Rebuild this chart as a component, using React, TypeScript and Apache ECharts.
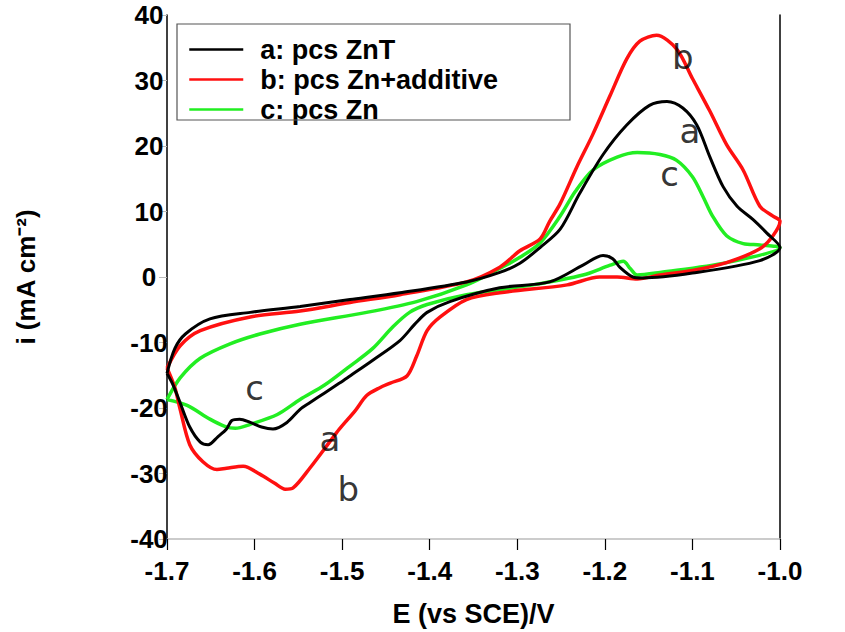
import React, { useEffect, useRef } from "react";
import * as echarts from "echarts";

// Potential range (V) and current density range (mA cm^-2)
const xTicks = [-1.7, -1.6, -1.5, -1.4, -1.3, -1.2, -1.1, -1.0];
const yTicks = [-40, -30, -20, -10, 0, 10, 20, 30, 40];

const seriesNames = ["a: pcs ZnT", "b: pcs Zn+additive", "c: pcs Zn"];
const seriesColors = ["#000000", "#ff1010", "#22ee22"];

// Voltammogram a (closed loop: cathodic sweep then anodic return)
const curveA: [number, number][] = [
  [-1.7, -14.7], [-1.693, -16.5], [-1.685, -19.2], [-1.674, -22.9], [-1.662, -25.2],
  [-1.653, -25.6], [-1.642, -24.4], [-1.632, -23.2], [-1.626, -21.9], [-1.617, -21.7],
  [-1.605, -22.2], [-1.592, -22.9], [-1.579, -23.2], [-1.563, -22.2], [-1.548, -20.2],
  [-1.537, -19.2], [-1.52, -17.7], [-1.503, -16.2], [-1.491, -15.1], [-1.465, -12.7],
  [-1.434, -9.7], [-1.417, -7.2], [-1.403, -5.4], [-1.377, -3.75], [-1.32, -1.65],
  [-1.263, -0.75], [-1.225, 1.8], [-1.202, 3.3], [-1.191, 2.8], [-1.183, 1.5],
  [-1.168, 0], [-1.157, -0.15], [-1.1, 0.6], [-1.023, 2.5], [-1.0, 4.5],
  [-1.015, 6.7], [-1.031, 8.8], [-1.049, 10.8], [-1.065, 13.8], [-1.08, 18.3],
  [-1.095, 23.2], [-1.111, 25.8], [-1.129, 26.8], [-1.149, 26.2], [-1.175, 23.2],
  [-1.202, 18.7], [-1.229, 12.7], [-1.251, 7.3], [-1.274, 4.5], [-1.297, 2.1],
  [-1.32, 0.7], [-1.358, -0.75], [-1.434, -2.4], [-1.491, -3.45], [-1.548, -4.5],
  [-1.605, -5.4], [-1.651, -6.4], [-1.679, -8.7], [-1.691, -10.9], [-1.7, -14.7],
];

// Voltammogram b
const curveB: [number, number][] = [
  [-1.7, -13.9], [-1.691, -16.9], [-1.685, -20.2], [-1.674, -25.6], [-1.659, -28.2],
  [-1.643, -29.4], [-1.632, -29.2], [-1.613, -28.9], [-1.594, -30.1], [-1.577, -31.5],
  [-1.565, -32.4], [-1.556, -32.2], [-1.537, -29.2], [-1.511, -24.6], [-1.503, -23.2],
  [-1.485, -20.4], [-1.472, -18.1], [-1.457, -16.9], [-1.445, -16.2], [-1.426, -15.1],
  [-1.415, -12.1], [-1.403, -8.2], [-1.388, -6.1], [-1.358, -3.45], [-1.32, -2.4],
  [-1.243, -1.2], [-1.206, 0], [-1.186, 0], [-1.163, -0.3], [-1.137, 0.3],
  [-1.1, 1.0], [-1.061, 2.2], [-1.023, 4.3], [-1.008, 6.3], [-1.0, 8.5],
  [-1.008, 9.3], [-1.023, 10.8], [-1.042, 16.3], [-1.061, 20.2], [-1.08, 25.3],
  [-1.1, 30.3], [-1.118, 34.8], [-1.141, 36.9], [-1.16, 36.0], [-1.175, 33.3],
  [-1.194, 27.7], [-1.214, 21.7], [-1.232, 16.8], [-1.251, 11.2], [-1.263, 8.5],
  [-1.274, 5.8], [-1.297, 4.0], [-1.32, 1.5], [-1.358, -0.75], [-1.434, -2.7],
  [-1.491, -3.9], [-1.548, -5.2], [-1.605, -6.1], [-1.662, -8.2], [-1.685, -10.5],
  [-1.7, -13.9],
];

// Voltammogram c
const curveC: [number, number][] = [
  [-1.7, -18.7], [-1.677, -19.6], [-1.651, -21.7], [-1.634, -22.8], [-1.622, -23.1],
  [-1.605, -22.5], [-1.574, -21.0], [-1.548, -18.7], [-1.52, -16.5], [-1.491, -13.6],
  [-1.465, -10.9], [-1.442, -7.6], [-1.423, -5.4], [-1.403, -4.2], [-1.358, -2.7],
  [-1.282, -1.2], [-1.225, 0.3], [-1.194, 1.8], [-1.179, 2.4], [-1.171, 1.3],
  [-1.163, 0.3], [-1.137, 0.7], [-1.061, 2.2], [-1.0, 4.5],
  [-1.023, 4.9], [-1.042, 5.1], [-1.061, 6.3], [-1.077, 9.3], [-1.088, 12.3],
  [-1.1, 15.3], [-1.118, 17.8], [-1.137, 18.7], [-1.163, 19.0], [-1.186, 18.3],
  [-1.214, 16.3], [-1.234, 13.0], [-1.251, 9.3], [-1.274, 5.2], [-1.297, 3.0],
  [-1.32, 1.3], [-1.358, -1.2], [-1.415, -3.75], [-1.472, -5.4], [-1.548, -7.2],
  [-1.594, -8.7], [-1.628, -10.2], [-1.662, -12.4], [-1.685, -15.4], [-1.7, -18.7],
];

// Curve letters placed next to the peaks
const annoLabels = ["b", "a", "c", "c", "a", "b"];
const annoX = [-1.111, -1.103, -1.126, -1.6, -1.514, -1.493];
const annoY = [33.6, 22.3, 15.7, -16.9, -24.7, -32.4];

const FONT = "Liberation Sans, Arial, sans-serif";

export default function App() {
  const ref = useRef<HTMLDivElement>(null);

  useEffect(() => {
    if (!ref.current) return;
    const chart = echarts.init(ref.current, null, { renderer: "svg" });
    const curves = [curveA, curveB, curveC];
    const widths = [3, 3.5, 3.5];

    chart.setOption({
      animation: false,
      backgroundColor: "#ffffff",
      grid: { left: 167, right: 65, top: 15, bottom: 83, containLabel: false },
      legend: {
        orient: "vertical",
        left: 188,
        top: 36,
        itemWidth: 54,
        itemHeight: 22,
        itemGap: 3,
        padding: 0,
        data: seriesNames,
        itemStyle: { opacity: 0 },
        lineStyle: { width: 2.5 },
        textStyle: {
          fontFamily: FONT,
          fontSize: 27,
          fontWeight: "bold",
          color: "#000",
          padding: [0, 0, 0, 12],
        },
      },
      graphic: [
        {
          type: "rect",
          shape: { x: 177, y: 24, width: 393, height: 96 },
          style: { fill: "none", stroke: "#555", lineWidth: 1.2 },
          z: 10,
        },
      ],
      xAxis: {
        type: "value",
        min: xTicks[0],
        max: xTicks[xTicks.length - 1],
        interval: 0.1,
        name: "E (vs SCE)/V",
        nameLocation: "middle",
        nameGap: 61,
        nameTextStyle: { fontFamily: FONT, fontSize: 27, fontWeight: "bold", color: "#000" },
        axisLine: { show: true, onZero: false, lineStyle: { color: "#bbbbbb", width: 1.5 } },
        axisTick: { show: true, inside: false, length: 11, lineStyle: { color: "#000", width: 1.2 } },
        axisLabel: {
          margin: 19,
          fontFamily: FONT,
          fontSize: 26,
          fontWeight: "bold",
          color: "#000",
          formatter: (v: number) => v.toFixed(1),
        },
        splitLine: { show: false },
      },
      yAxis: [
        {
          type: "value",
          min: yTicks[0],
          max: yTicks[yTicks.length - 1],
          interval: 10,
          name: "i (mA cm⁻²)",
          nameLocation: "middle",
          nameRotate: 90,
          nameGap: 128,
          nameTextStyle: { fontFamily: FONT, fontSize: 26, fontWeight: "bold", color: "#000" },
          axisLine: { show: true, onZero: false, lineStyle: { color: "#000", width: 1.5 } },
          axisTick: { show: true, length: 8, lineStyle: { color: "#bbbbbb" } },
          axisLabel: {
            margin: 18,
            align: "center",
            fontFamily: FONT,
            fontSize: 26,
            fontWeight: "bold",
            color: "#000",
          },
          splitLine: { show: false },
        },
        {
          type: "value",
          position: "right",
          min: yTicks[0],
          max: yTicks[yTicks.length - 1],
          interval: 10,
          axisLine: { show: true, onZero: false, lineStyle: { color: "#000", width: 1.5 } },
          axisTick: { show: false },
          axisLabel: { show: false },
          splitLine: { show: false },
        },
      ],
      series: [
        ...curves.map((c, i) => ({
          name: seriesNames[i],
          type: "line",
          data: c,
          symbol: "none",
          smooth: 0.3,
          lineStyle: { color: seriesColors[i], width: widths[i] },
          itemStyle: { color: seriesColors[i] },
          z: 3 - i,
        })),
        {
          name: "labels",
          type: "scatter",
          symbolSize: 0,
          silent: true,
          data: annoLabels.map((t, i) => ({ name: t, value: [annoX[i], annoY[i]] })),
          label: {
            show: true,
            position: "inside",
            formatter: (p: any) => p.name,
            fontFamily: "DejaVu Sans, sans-serif",
            fontSize: 34,
            color: "#000",
          },
          z: 5,
        },
      ],
    });

    return () => chart.dispose();
  }, []);

  return (
    <div
      ref={ref}
      style={{ position: "fixed", left: 0, top: 0, width: 845, height: 632 }}
    />
  );
}
